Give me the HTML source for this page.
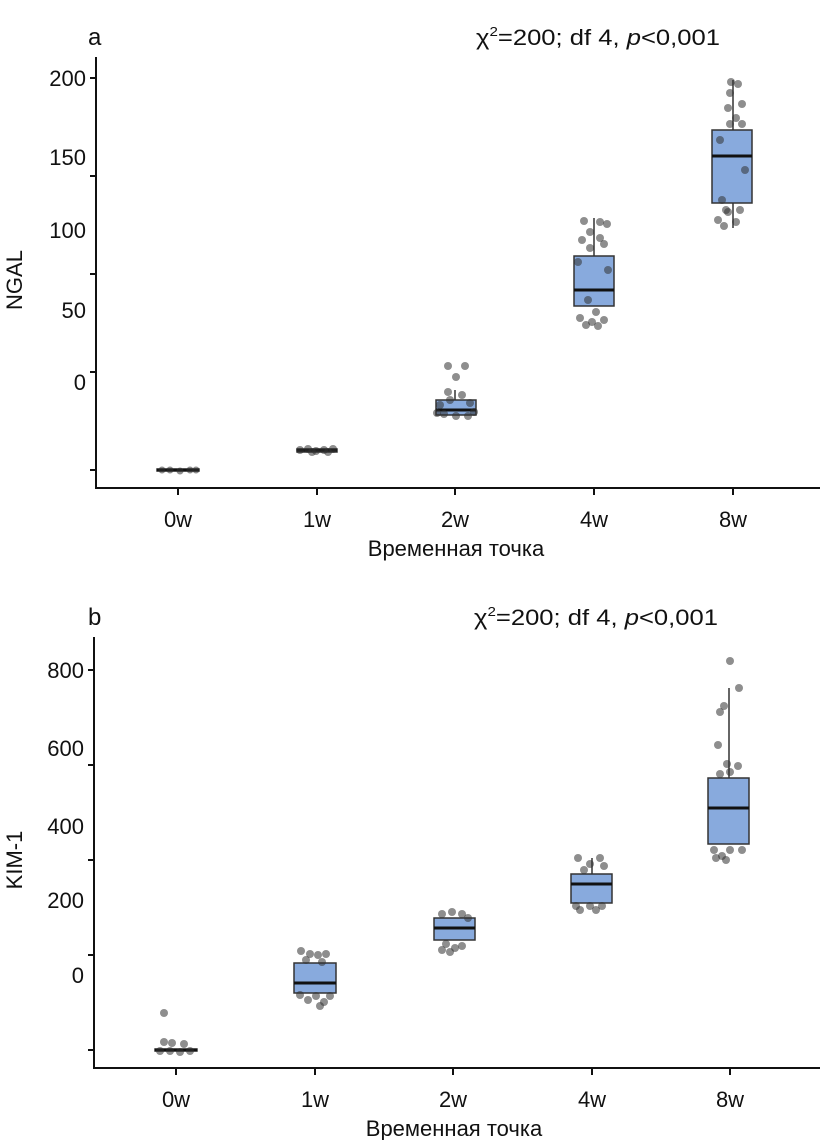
<!DOCTYPE html>
<html><head><meta charset="utf-8"><style>
html,body{margin:0;padding:0;background:#fff;}
svg text{font-family:"Liberation Sans Narrow","Liberation Sans",sans-serif;fill:#111;}
</style></head><body>
<svg width="820" height="1140" viewBox="0 0 820 1140" xmlns="http://www.w3.org/2000/svg">
<!-- Panel a -->
<text x="88" y="45" font-size="24">a</text>
<text x="476" y="45" font-size="22" textLength="244" lengthAdjust="spacingAndGlyphs">χ<tspan font-size="13" dy="-9">2</tspan><tspan dy="9">=200; df 4, </tspan><tspan font-style="italic">p</tspan>&lt;0,001</text>
<g stroke="#111" stroke-width="2" fill="none">
<path d="M96 57 V488 H820"/>
<path d="M90 78H96 M90 176H96 M90 274H96 M90 372H96 M90 470H96"/>
<path d="M178 488v7 M317 488v7 M455 488v7 M594 488v7 M733 488v7"/>
</g>
<g font-size="22" text-anchor="end">
<text x="86" y="86">200</text><text x="86" y="165">150</text><text x="86" y="238">100</text><text x="86" y="318">50</text><text x="86" y="390">0</text>
</g>
<g font-size="22" text-anchor="middle">
<text x="178" y="527">0w</text><text x="317" y="527">1w</text><text x="455" y="527">2w</text><text x="594" y="527">4w</text><text x="733" y="527">8w</text>
<text x="456" y="556">Временная точка</text>
</g>
<text transform="translate(22 280) rotate(-90)" font-size="22" text-anchor="middle" font-family="Liberation Sans">NGAL</text>
<g stroke="#333" stroke-width="1.5" fill="#88aadd">
<line x1="178" y1="469" x2="178" y2="471"/>
<rect x="157" y="469" width="42" height="2"/>
<rect x="297" y="449" width="40" height="3"/>
<line x1="455" y1="390" x2="455" y2="400"/><rect x="436" y="400" width="40" height="15"/>
<line x1="594" y1="218" x2="594" y2="256"/><rect x="574" y="256" width="40" height="50"/>
<line x1="733" y1="80" x2="733" y2="130"/><line x1="733" y1="203" x2="733" y2="228"/><rect x="712" y="130" width="40" height="73"/>
</g>
<g stroke="#111" stroke-width="3">
<line x1="157" y1="470" x2="199" y2="470"/><line x1="297" y1="450" x2="337" y2="450"/>
<line x1="436" y1="410" x2="476" y2="410"/><line x1="574" y1="290" x2="614" y2="290"/><line x1="712" y1="156" x2="752" y2="156"/>
</g>
<g fill="rgba(50,50,50,0.55)">
<circle cx="162" cy="470" r="3.5"/><circle cx="170" cy="470" r="3.5"/><circle cx="180" cy="471" r="3.5"/><circle cx="190" cy="470" r="3.5"/><circle cx="196" cy="470" r="3.5"/>
<circle cx="300" cy="450" r="4"/><circle cx="308" cy="449" r="4"/><circle cx="316" cy="451" r="4"/><circle cx="324" cy="450" r="4"/><circle cx="333" cy="449" r="4"/><circle cx="312" cy="452" r="4"/><circle cx="328" cy="452" r="4"/>
<circle cx="448" cy="366" r="4"/><circle cx="465" cy="366" r="4"/><circle cx="456" cy="377" r="4"/><circle cx="448" cy="392" r="4"/><circle cx="462" cy="395" r="4"/><circle cx="440" cy="405" r="4"/><circle cx="470" cy="403" r="4"/><circle cx="444" cy="414" r="4"/><circle cx="456" cy="416" r="4"/><circle cx="468" cy="416" r="4"/><circle cx="450" cy="400" r="4"/><circle cx="437" cy="413" r="4"/><circle cx="474" cy="412" r="4"/>
<circle cx="584" cy="221" r="4"/><circle cx="600" cy="222" r="4"/><circle cx="607" cy="224" r="4"/><circle cx="590" cy="232" r="4"/><circle cx="600" cy="238" r="4"/><circle cx="582" cy="240" r="4"/><circle cx="604" cy="244" r="4"/><circle cx="590" cy="248" r="4"/><circle cx="578" cy="262" r="4"/><circle cx="608" cy="270" r="4"/><circle cx="588" cy="300" r="4"/><circle cx="596" cy="312" r="4"/><circle cx="580" cy="318" r="4"/><circle cx="592" cy="322" r="4"/><circle cx="604" cy="320" r="4"/><circle cx="586" cy="325" r="4"/><circle cx="598" cy="326" r="4"/>
<circle cx="731" cy="82" r="4"/><circle cx="738" cy="84" r="4"/><circle cx="730" cy="93" r="4"/><circle cx="742" cy="104" r="4"/><circle cx="728" cy="108" r="4"/><circle cx="736" cy="118" r="4"/><circle cx="742" cy="124" r="4"/><circle cx="730" cy="124" r="4"/><circle cx="720" cy="140" r="4"/><circle cx="745" cy="170" r="4"/><circle cx="722" cy="200" r="4"/><circle cx="726" cy="210" r="4"/><circle cx="740" cy="210" r="4"/><circle cx="718" cy="220" r="4"/><circle cx="736" cy="222" r="4"/><circle cx="724" cy="226" r="4"/><circle cx="728" cy="212" r="4"/>
</g>
<!-- Panel b -->
<text x="88" y="625" font-size="24">b</text>
<text x="474" y="625" font-size="22" textLength="244" lengthAdjust="spacingAndGlyphs">χ<tspan font-size="13" dy="-9">2</tspan><tspan dy="9">=200; df 4, </tspan><tspan font-style="italic">p</tspan>&lt;0,001</text>
<g stroke="#111" stroke-width="2" fill="none">
<path d="M94 637 V1068 H820"/>
<path d="M88 670H94 M88 765H94 M88 860H94 M88 955H94 M88 1050H94"/>
<path d="M176 1068v7 M315 1068v7 M453 1068v7 M592 1068v7 M730 1068v7"/>
</g>
<g font-size="22" text-anchor="end">
<text x="84" y="678">800</text><text x="84" y="756">600</text><text x="84" y="834">400</text><text x="84" y="908">200</text><text x="84" y="983">0</text>
</g>
<g font-size="22" text-anchor="middle">
<text x="176" y="1107">0w</text><text x="315" y="1107">1w</text><text x="453" y="1107">2w</text><text x="592" y="1107">4w</text><text x="730" y="1107">8w</text>
<text x="454" y="1136">Временная точка</text>
</g>
<text transform="translate(22 860) rotate(-90)" font-size="22" text-anchor="middle" font-family="Liberation Sans">KIM-1</text>
<g stroke="#333" stroke-width="1.5" fill="#88aadd">
<rect x="155" y="1049" width="42" height="2"/>
<rect x="294" y="963" width="42" height="30"/>
<rect x="434" y="918" width="41" height="22"/>
<line x1="592" y1="858" x2="592" y2="874"/><rect x="571" y="874" width="41" height="29"/>
<line x1="729" y1="688" x2="729" y2="778"/><rect x="708" y="778" width="41" height="66"/>
</g>
<g stroke="#111" stroke-width="3">
<line x1="155" y1="1050" x2="197" y2="1050"/><line x1="294" y1="983" x2="336" y2="983"/>
<line x1="434" y1="928" x2="475" y2="928"/><line x1="571" y1="884" x2="612" y2="884"/><line x1="708" y1="808" x2="749" y2="808"/>
</g>
<g fill="rgba(50,50,50,0.55)">
<circle cx="164" cy="1013" r="4"/><circle cx="164" cy="1042" r="4"/><circle cx="172" cy="1043" r="4"/><circle cx="184" cy="1044" r="4"/><circle cx="160" cy="1051" r="4"/><circle cx="170" cy="1051" r="4"/><circle cx="180" cy="1052" r="4"/><circle cx="190" cy="1051" r="4"/>
<circle cx="301" cy="951" r="4"/><circle cx="310" cy="954" r="4"/><circle cx="318" cy="955" r="4"/><circle cx="326" cy="954" r="4"/><circle cx="306" cy="960" r="4"/><circle cx="322" cy="962" r="4"/><circle cx="300" cy="995" r="4"/><circle cx="316" cy="996" r="4"/><circle cx="308" cy="1000" r="4"/><circle cx="324" cy="1002" r="4"/><circle cx="320" cy="1006" r="4"/><circle cx="330" cy="996" r="4"/>
<circle cx="442" cy="914" r="4"/><circle cx="452" cy="912" r="4"/><circle cx="462" cy="914" r="4"/><circle cx="468" cy="918" r="4"/><circle cx="446" cy="944" r="4"/><circle cx="455" cy="948" r="4"/><circle cx="442" cy="950" r="4"/><circle cx="462" cy="946" r="4"/><circle cx="450" cy="952" r="4"/>
<circle cx="578" cy="858" r="4"/><circle cx="600" cy="858" r="4"/><circle cx="590" cy="864" r="4"/><circle cx="584" cy="870" r="4"/><circle cx="604" cy="866" r="4"/><circle cx="576" cy="906" r="4"/><circle cx="590" cy="906" r="4"/><circle cx="602" cy="906" r="4"/><circle cx="580" cy="910" r="4"/><circle cx="596" cy="910" r="4"/>
<circle cx="730" cy="661" r="4"/><circle cx="739" cy="688" r="4"/><circle cx="720" cy="712" r="4"/><circle cx="724" cy="706" r="4"/><circle cx="718" cy="745" r="4"/><circle cx="727" cy="764" r="4"/><circle cx="738" cy="766" r="4"/><circle cx="730" cy="772" r="4"/><circle cx="720" cy="774" r="4"/><circle cx="714" cy="850" r="4"/><circle cx="730" cy="850" r="4"/><circle cx="742" cy="850" r="4"/><circle cx="722" cy="856" r="4"/><circle cx="716" cy="858" r="4"/><circle cx="726" cy="860" r="4"/>
</g>
</svg>
</body></html>
